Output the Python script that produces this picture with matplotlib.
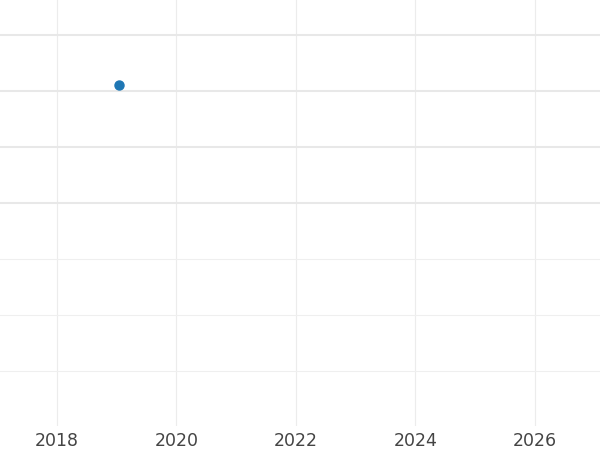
import matplotlib
matplotlib.use("Agg")
import matplotlib.pyplot as plt

years = [2019.04]
values = [5.1]
x_ticks = [2018, 2020, 2022, 2024, 2026]
y_ticks = [0, 1, 2, 3, 4, 5, 6]

fig = plt.figure(figsize=(6, 4.5), dpi=100)
ax = fig.add_axes([0, 24 / 450, 1, 426 / 450])

ax.plot(years, values, "o", color="#1f77b4", markersize=6.5, zorder=3)

ax.set_xlim(2017.046, 2027.09)
ax.set_ylim(-0.982, 6.625)
ax.set_xticks(x_ticks)
ax.set_yticks(y_ticks)
ax.set_yticklabels([])

for s in ax.spines.values():
    s.set_visible(False)
ax.tick_params(axis="both", length=0)
ax.tick_params(axis="x", labelsize=12.5, labelcolor="#444444", pad=4)

ax.grid(True, axis="x", color="#ececec", linewidth=0.8)
ax.grid(True, axis="y", color="#e8e8e8", linewidth=1.0)
for t, line in zip(y_ticks, ax.get_ygridlines()):
    if t < 3:
        line.set_linewidth(0.8)
        line.set_color("#efefef")
    else:
        line.set_linewidth(1.5)
ax.set_axisbelow(True)

fig.savefig("out.png", dpi=100)
